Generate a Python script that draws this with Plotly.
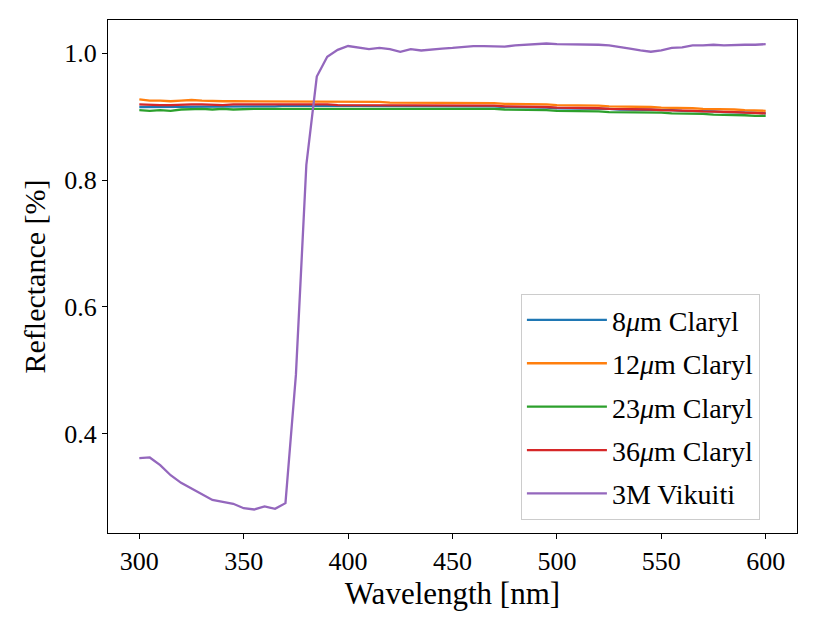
import plotly.graph_objects as go

wavelength = list(range(300, 601, 5))

claryl_8 = [0.915, 0.915, 0.915, 0.915, 0.916, 0.916, 0.916, 0.916, 0.916, 0.916,
            0.916, 0.916, 0.916, 0.916, 0.917, 0.917, 0.917, 0.917, 0.917, 0.917,
            0.917, 0.917, 0.917, 0.917, 0.916, 0.916, 0.916, 0.916, 0.916, 0.916,
            0.916, 0.916, 0.916, 0.916, 0.916, 0.915, 0.915, 0.915, 0.914, 0.914,
            0.913, 0.913, 0.913, 0.912, 0.912, 0.912, 0.911, 0.911, 0.911, 0.910,
            0.910, 0.910, 0.909, 0.909, 0.908, 0.908, 0.907, 0.907, 0.906, 0.906,
            0.905]

claryl_12 = [0.927, 0.925, 0.925, 0.924, 0.925, 0.926, 0.925, 0.924, 0.924, 0.924,
             0.924, 0.924, 0.924, 0.923, 0.923, 0.924, 0.924, 0.923, 0.923, 0.923,
             0.923, 0.923, 0.923, 0.923, 0.922, 0.922, 0.922, 0.922, 0.922, 0.922,
             0.922, 0.922, 0.922, 0.922, 0.921, 0.920, 0.920, 0.919, 0.919, 0.919,
             0.918, 0.918, 0.917, 0.917, 0.917, 0.916, 0.916, 0.915, 0.915, 0.915,
             0.914, 0.914, 0.913, 0.913, 0.912, 0.912, 0.911, 0.911, 0.910, 0.910,
             0.909]

claryl_23 = [0.910, 0.909, 0.910, 0.909, 0.911, 0.912, 0.912, 0.911, 0.912, 0.911,
             0.912, 0.912, 0.912, 0.912, 0.913, 0.913, 0.913, 0.913, 0.913, 0.913,
             0.913, 0.913, 0.913, 0.913, 0.913, 0.913, 0.913, 0.913, 0.913, 0.913,
             0.913, 0.913, 0.913, 0.913, 0.912, 0.911, 0.911, 0.910, 0.910, 0.910,
             0.909, 0.909, 0.908, 0.908, 0.908, 0.907, 0.907, 0.907, 0.906, 0.906,
             0.906, 0.905, 0.905, 0.904, 0.904, 0.903, 0.903, 0.902, 0.902, 0.901,
             0.901]

claryl_36 = [0.919, 0.918, 0.918, 0.918, 0.919, 0.919, 0.919, 0.918, 0.918, 0.919,
             0.919, 0.919, 0.919, 0.919, 0.919, 0.920, 0.920, 0.919, 0.919, 0.918,
             0.918, 0.918, 0.918, 0.918, 0.918, 0.918, 0.918, 0.918, 0.918, 0.918,
             0.918, 0.918, 0.918, 0.918, 0.917, 0.916, 0.916, 0.916, 0.915, 0.915,
             0.914, 0.914, 0.914, 0.913, 0.913, 0.912, 0.912, 0.911, 0.911, 0.911,
             0.910, 0.910, 0.909, 0.909, 0.908, 0.908, 0.907, 0.907, 0.906, 0.906,
             0.905]

vikuiti_3m = [0.362, 0.363, 0.351, 0.335, 0.323, 0.314, 0.305, 0.296, 0.293, 0.290,
              0.283, 0.281, 0.286, 0.282, 0.291, 0.493, 0.824, 0.963, 0.994, 1.005,
              1.011, 1.008, 1.006, 1.008, 1.006, 1.002, 1.006, 1.004, 1.006, 1.007,
              1.008, 1.010, 1.011, 1.011, 1.010, 1.010, 1.012, 1.013, 1.014, 1.015,
              1.014, 1.014, 1.014, 1.013, 1.013, 1.012, 1.010, 1.007, 1.004, 1.002,
              1.004, 1.008, 1.009, 1.012, 1.012, 1.013, 1.012, 1.013, 1.013, 1.013,
              1.014]

series = [
    ("8<i>μ</i>m Claryl", claryl_8, "#1f77b4"),
    ("12<i>μ</i>m Claryl", claryl_12, "#ff7f0e"),
    ("23<i>μ</i>m Claryl", claryl_23, "#2ca02c"),
    ("36<i>μ</i>m Claryl", claryl_36, "#d62728"),
    ("3M Vikuiti", vikuiti_3m, "#9467bd"),
]

x_ticks = [300, 350, 400, 450, 500, 550, 600]
y_ticks = [0.4, 0.6, 0.8, 1.0]

fig = go.Figure()
for i, (name, vals, color) in enumerate(series):
    fig.add_trace(go.Scatter(x=wavelength, y=vals, mode="lines", name=name,
                             legendgroup=f"g{i}",
                             line=dict(color=color, width=2.3)))

font_family = "Liberation Serif, serif"
fig.update_layout(
    width=828, height=622,
    margin=dict(l=100, r=39, t=12, b=97, autoexpand=False),
    paper_bgcolor="white", plot_bgcolor="white",
    font=dict(family=font_family, size=26, color="black"),
    showlegend=True,
    legend=dict(x=0.599, y=0.466, xanchor="left", yanchor="top",
                bgcolor="rgba(255,255,255,0.8)", bordercolor="#cccccc", borderwidth=1.2,
                font=dict(family=font_family, size=28), tracegroupgap=4,
                itemwidth=80),
)
fig.update_xaxes(range=[285, 615], tickvals=x_ticks, ticks="outside", ticklen=5,
                 tickcolor="black", showline=True, linecolor="black", linewidth=1.2,
                 mirror=True, showgrid=False, zeroline=False, automargin=False,
                 title=dict(text="Wavelength [nm]", standoff=6,
                            font=dict(family=font_family, size=31)))
fig.update_yaxes(range=[0.244, 1.052], tickvals=y_ticks, tickformat=".1f",
                 ticks="outside", ticklen=5, tickcolor="black", showline=True,
                 linecolor="black", linewidth=1.2, mirror=True, showgrid=False,
                 zeroline=False, automargin=False,
                 title=dict(text="Reflectance [%]", standoff=9,
                            font=dict(family=font_family, size=30)))

fig.write_html("out.html")
